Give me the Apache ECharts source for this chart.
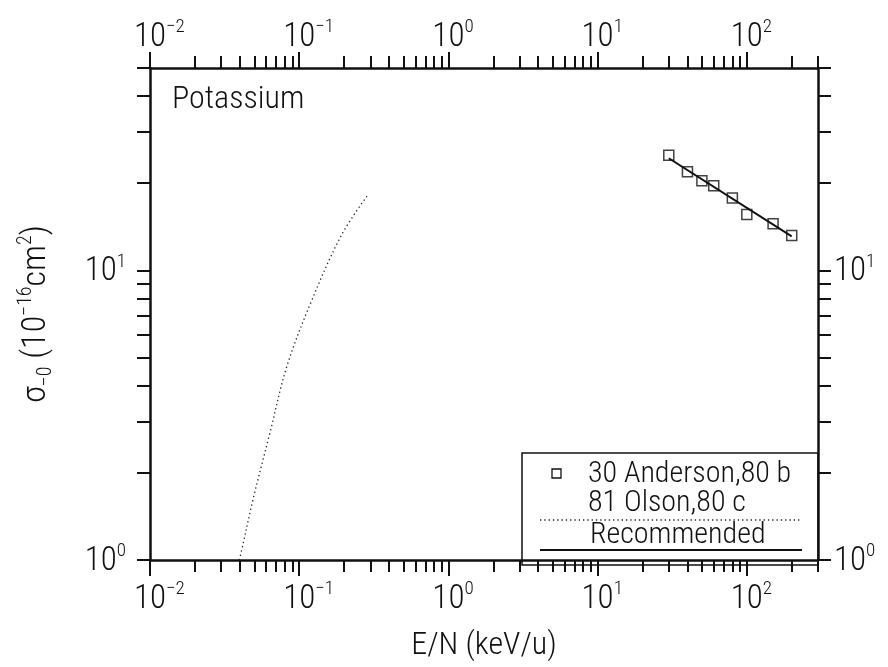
<!DOCTYPE html>
<html><head><meta charset="utf-8">
<script src="https://cdn.jsdelivr.net/npm/echarts@6/dist/echarts.min.js"></script>
<style>html,body{margin:0;padding:0;background:#fff}#c{width:888px;height:667px}</style>
</head><body><div id="c"></div>
<script>
// ---- data ----
const andersonE = [30, 40, 50, 60, 80, 100, 150, 200];
const andersonSigma = [25.0, 21.9, 20.4, 19.6, 17.8, 15.6, 14.5, 13.2];
const olsonE = [0.0395, 0.0406, 0.0492, 0.0637, 0.0824, 0.121, 0.193, 0.29];
const olsonSigma = [1.0, 1.05, 1.63, 2.75, 4.64, 7.85, 13.3, 18.3];
const recommendedE = [30, 200];
const recommendedSigma = [24.4, 13.1];
const xMajorTicks = [0.01, 0.1, 1, 10, 100];
const xAllTicks = [0.01,0.02,0.03,0.04,0.05,0.06,0.07,0.08,0.09,
  0.1,0.2,0.3,0.4,0.5,0.6,0.7,0.8,0.9,
  1,2,3,4,5,6,7,8,9,
  10,20,30,40,50,60,70,80,90,
  100,200,300];
const yMajorTicks = [1, 10];
const yAllTicks = [1,2,3,4,5,6,7,8,9,10,20,30,40,50];
const legendNames = ['30 Anderson,80 b', '81 Olson,80 c', 'Recommended'];

const FONT = "'Roboto Condensed', 'Liberation Sans Narrow', 'DejaVu Sans Condensed', Roboto";
const FW = 300;
const INK = '#111';

function pairs(xs, ys) { return xs.map((x, i) => [x, ys[i]]); }
function expText(v) { return String(Math.round(Math.log10(v))).replace('-', '\u2212'); }
// "10" centred on the tick: an invisible copy of the exponent balances the visible one
function xLabel(v) { const e = expText(v); return '{h|' + e + '}{b|10}{s|' + e + '}'; }
function yLabel(v) { return '{b|10}{s|' + expText(v) + '}'; }
const labelRich = {
  b: { fontFamily: FONT, fontWeight: FW, fontSize: 33, color: INK, lineHeight: 36, verticalAlign: 'bottom' },
  s: { fontFamily: FONT, fontWeight: FW, fontSize: 19, color: INK, lineHeight: 24, verticalAlign: 'top' },
  h: { fontFamily: FONT, fontWeight: FW, fontSize: 19, color: 'rgba(0,0,0,0)', lineHeight: 24, verticalAlign: 'top' }
};

function xAxisDef(pos, main) {
  return {
    type: 'log', logBase: 10, min: 0.01, max: 300, position: pos, gridIndex: 0,
    axisLine: { show: main, onZero: false, lineStyle: { color: INK, width: 2.5 } },
    axisTick: { show: true, inside: false, length: main ? 12 : 16,
      customValues: main ? xAllTicks : xMajorTicks, lineStyle: { color: INK, width: 2 } },
    axisLabel: { show: main, customValues: xMajorTicks, formatter: xLabel, rich: labelRich,
      margin: pos === 'bottom' ? 20 : 14 },
    splitLine: { show: false }, minorTick: { show: false }
  };
}
function yAxisDef(pos) {
  return {
    type: 'log', logBase: 10, min: 1, max: 50, position: pos, gridIndex: 0,
    axisLine: { show: true, onZero: false, lineStyle: { color: INK, width: 2.5 } },
    axisTick: { show: true, inside: false, length: 13, customValues: yAllTicks, lineStyle: { color: INK, width: 2 } },
    axisLabel: { show: true, customValues: yMajorTicks, formatter: yLabel, rich: labelRich,
      margin: pos === 'left' ? 24 : 16 },
    splitLine: { show: false }, minorTick: { show: false }
  };
}

const xb = xAxisDef('bottom', true);
xb.name = 'E/N (keV/u)';
xb.nameLocation = 'middle';
xb.nameGap = 70;
xb.nameTextStyle = { fontFamily: FONT, fontWeight: FW, fontSize: 32, color: INK };

const yl = yAxisDef('left');
yl.name = '{t|\u03C3}{sb|\u22120}{t| (10}{sp|\u221216}{t|cm}{sp|2}{t|)}';
yl.nameLocation = 'middle';
yl.nameRotate = 90;
yl.nameGap = 94;
yl.nameTextStyle = {
  rich: {
    t: { fontFamily: FONT, fontWeight: FW, fontSize: 34, color: INK, lineHeight: 40, verticalAlign: 'middle' },
    sp: { fontFamily: FONT, fontWeight: FW, fontSize: 20, color: INK, lineHeight: 26, verticalAlign: 'top' },
    sb: { fontFamily: FONT, fontWeight: FW, fontSize: 20, color: INK, lineHeight: 24, verticalAlign: 'bottom' }
  }
};

const chart = echarts.init(document.getElementById('c'), null, { renderer: 'canvas' });
const LX = 522, LY = 453;
chart.setOption({
  backgroundColor: '#fff',
  animation: false,
  grid: { left: 150, right: 70, top: 68, bottom: 102, containLabel: false },
  xAxis: [xb, xAxisDef('top', true), xAxisDef('bottom', false), xAxisDef('top', false)],
  yAxis: [yl, yAxisDef('right')],
  series: [
    { name: legendNames[0], type: 'scatter', xAxisIndex: 0, yAxisIndex: 0,
      data: pairs(andersonE, andersonSigma), symbol: 'rect', symbolSize: 10, z: 5,
      itemStyle: { color: 'rgba(0,0,0,0)', borderColor: INK, borderWidth: 1.5 } },
    { name: legendNames[1], type: 'line', xAxisIndex: 0, yAxisIndex: 0,
      data: pairs(olsonE, olsonSigma), smooth: 0.35, showSymbol: false, symbol: 'none',
      lineStyle: { color: '#222', width: 1.3, type: [1.3, 3] } },
    { name: legendNames[2], type: 'line', xAxisIndex: 0, yAxisIndex: 0,
      data: pairs(recommendedE, recommendedSigma), showSymbol: false, symbol: 'none',
      lineStyle: { color: INK, width: 2 } }
  ],
  graphic: [
    { type: 'text', left: 172, top: 84, style: { text: 'Potassium', fontFamily: FONT, fontWeight: FW, fontSize: 32, fill: INK } },
    { type: 'rect', shape: { x: LX, y: LY, width: 818 - LX, height: 565 - LY }, style: { fill: 'none', stroke: INK, lineWidth: 1.5 } },
    { type: 'rect', shape: { x: 552, y: 469, width: 9, height: 9 }, style: { fill: 'none', stroke: INK, lineWidth: 1.3 } },
    { type: 'text', x: 588, y: 474, style: { text: legendNames[0], fontFamily: FONT, fontWeight: FW, fontSize: 30, fill: INK, verticalAlign: 'middle' } },
    { type: 'text', x: 588, y: 503, style: { text: legendNames[1], fontFamily: FONT, fontWeight: FW, fontSize: 30, fill: INK, verticalAlign: 'middle' } },
    { type: 'line', shape: { x1: 540, y1: 520, x2: 802, y2: 520 }, style: { stroke: '#222', lineWidth: 1.3, lineDash: [1.3, 3] } },
    { type: 'text', x: 590, y: 535, style: { text: legendNames[2], fontFamily: FONT, fontWeight: FW, fontSize: 30, fill: INK, verticalAlign: 'middle' } },
    { type: 'line', shape: { x1: 540, y1: 550, x2: 802, y2: 550 }, style: { stroke: INK, lineWidth: 2 } }
  ]
});
</script>
</body></html>
